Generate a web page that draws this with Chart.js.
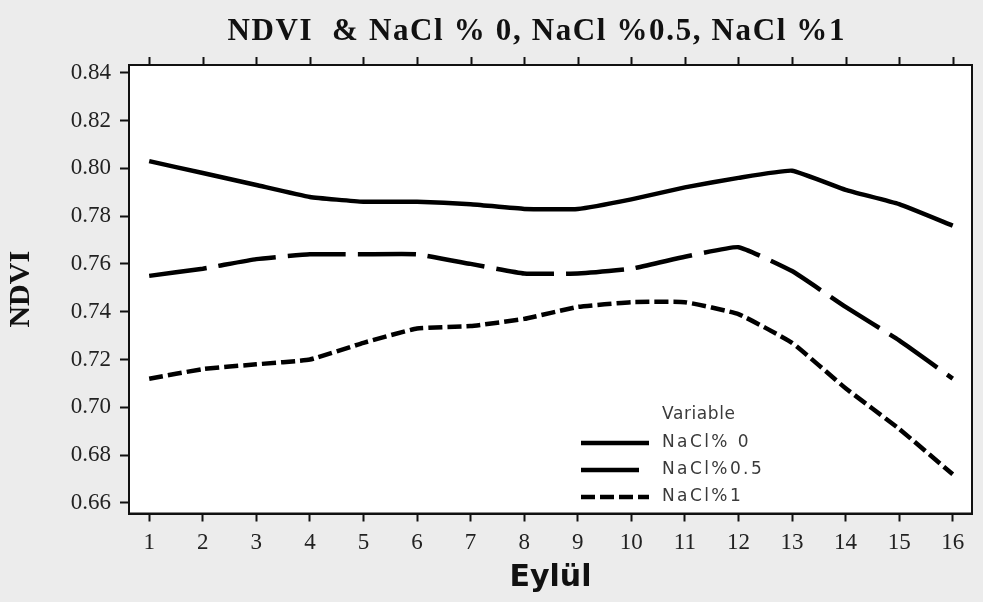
<!DOCTYPE html>
<html>
<head>
<meta charset="utf-8">
<script src="https://cdn.jsdelivr.net/npm/chart.js@4.4.1/dist/chart.umd.min.js"></script>
<style>
  html, body { margin: 0; padding: 0; background: #ececec; }
</style>
</head>
<body>
<canvas id="ndviChart" width="983" height="602"></canvas>
<script>
// Chart data
const days = [1, 2, 3, 4, 5, 6, 7, 8, 9, 10, 11, 12, 13, 14, 15, 16];
const nacl0 = [0.803, 0.798, 0.793, 0.788, 0.786, 0.786, 0.785, 0.783, 0.783, 0.787, 0.792, 0.796, 0.799, 0.791, 0.785, 0.776];
const nacl05 = [0.755, 0.758, 0.762, 0.764, 0.764, 0.764, 0.760, 0.756, 0.756, 0.758, 0.763, 0.767, 0.757, 0.742, 0.728, 0.712];
const nacl1 = [0.712, 0.716, 0.718, 0.720, 0.727, 0.733, 0.734, 0.737, 0.742, 0.744, 0.744, 0.739, 0.727, 0.708, 0.691, 0.672];
const yTicks = [0.66, 0.68, 0.70, 0.72, 0.74, 0.76, 0.78, 0.80, 0.82, 0.84];
const seriesNames = ['NaCl% 0', 'NaCl%0.5', 'NaCl%1'];
const titleText = 'NDVI  & NaCl % 0, NaCl %0.5, NaCl %1';
const legendTitle = 'Variable';

const toPoints = values => values.map((v, i) => ({ x: days[i], y: v }));

// Background, frame, top ticks, title and in-plot legend
const framePlugin = {
    id: 'framePlugin',
    beforeDraw(chart) {
        const { ctx, chartArea: a } = chart;
        ctx.save();
        ctx.fillStyle = '#ececec';
        ctx.fillRect(0, 0, chart.width, chart.height);
        ctx.fillStyle = '#ffffff';
        ctx.fillRect(a.left, a.top, a.right - a.left, a.bottom - a.top);
        ctx.restore();
    },
    afterDraw(chart) {
        const { ctx, chartArea: a } = chart;
        const xScale = chart.scales.x;
        ctx.save();

        // frame round the plot
        ctx.strokeStyle = '#111';
        ctx.lineWidth = 2;
        ctx.strokeRect(a.left, a.top, a.right - a.left, a.bottom - a.top);

        // tick marks on the top edge
        days.forEach(d => {
            const px = Math.round(xScale.getPixelForValue(d)) + 0.5;
            ctx.beginPath();
            ctx.moveTo(px, a.top);
            ctx.lineTo(px, a.top - 8);
            ctx.stroke();
        });

        // title, stretched to the width it has in the source
        ctx.fillStyle = '#111';
        ctx.font = 'bold 31px "Liberation Serif", "Times New Roman", serif';
        ctx.textAlign = 'left';
        ctx.textBaseline = 'middle';
        const plain = ctx.measureText(titleText).width;
        const spacing = Math.max(0, (617 - plain) / (titleText.length - 1));
        ctx.letterSpacing = spacing + 'px';
        ctx.fillText(titleText, 536 - 617 / 2, 32);
        ctx.letterSpacing = '0px';

        // legend inside the plot
        const lx0 = 581, lx1 = 649, tx = 662;
        ctx.font = '17px "DejaVu Sans", sans-serif';
        ctx.fillStyle = '#3a3a3a';
        ctx.letterSpacing = '0.6px';
        ctx.fillText(legendTitle, tx, 415);
        ctx.letterSpacing = '2.4px';
        chart.data.datasets.forEach((ds, i) => {
            const y = 443 + i * 27;
            ctx.save();
            ctx.strokeStyle = ds.borderColor;
            ctx.lineWidth = ds.borderWidth;
            ctx.setLineDash(ds.borderDash || []);
            ctx.beginPath();
            ctx.moveTo(lx0, y);
            ctx.lineTo(lx1, y);
            ctx.stroke();
            ctx.restore();
            ctx.fillText(ds.label, tx, y);
        });
        ctx.restore();
    }
};

const tickFont = { family: '"Liberation Serif", "Times New Roman", serif', size: 23 };

new Chart(document.getElementById('ndviChart'), {
    type: 'line',
    data: {
        datasets: [
            {
                label: seriesNames[0],
                data: toPoints(nacl0),
                borderColor: '#000',
                borderWidth: 4.5,
                borderDash: [],
                pointRadius: 0,
                tension: 0.12,
                fill: false
            },
            {
                label: seriesNames[1],
                data: toPoints(nacl05),
                borderColor: '#000',
                borderWidth: 4.5,
                borderDash: [58, 12],
                pointRadius: 0,
                tension: 0.12,
                fill: false
            },
            {
                label: seriesNames[2],
                data: toPoints(nacl1),
                borderColor: '#000',
                borderWidth: 4.5,
                borderDash: [14, 5],
                pointRadius: 0,
                tension: 0.12,
                fill: false
            }
        ]
    },
    options: {
        responsive: false,
        animation: false,
        layout: { padding: { top: 65, right: 11, left: 0, bottom: 0 } },
        plugins: {
            legend: { display: false },
            title: { display: false },
            tooltip: { enabled: false }
        },
        scales: {
            x: {
                type: 'linear',
                min: 0.623,
                max: 16.36,
                afterBuildTicks(axis) {
                    axis.ticks = days.map(v => ({ value: v }));
                },
                afterFit(scale) {
                    scale.height = 88.5;
                },
                border: { display: true, color: '#111', width: 2 },
                grid: { drawOnChartArea: false, drawTicks: true, tickLength: 8, tickWidth: 2, tickColor: '#111' },
                ticks: {
                    color: '#222',
                    font: tickFont,
                    padding: 8,
                    maxRotation: 0,
                    autoSkip: false
                },
                title: {
                    display: true,
                    text: 'Eylül',
                    color: '#111',
                    font: { family: '"DejaVu Sans", sans-serif', size: 30, weight: 'bold' },
                    padding: { top: 2, bottom: 6 }
                }
            },
            y: {
                min: 0.6556,
                max: 0.8432,
                afterBuildTicks(axis) {
                    axis.ticks = yTicks.map(v => ({ value: v }));
                },
                afterFit(scale) {
                    scale.width = 129;
                },
                border: { display: true, color: '#111', width: 2 },
                grid: { drawOnChartArea: false, drawTicks: true, tickLength: 9, tickWidth: 2, tickColor: '#111' },
                ticks: {
                    color: '#222',
                    font: tickFont,
                    padding: 9,
                    callback: v => v.toFixed(2)
                },
                title: {
                    display: true,
                    text: 'NDVI',
                    color: '#111',
                    font: { family: '"Liberation Serif", "Times New Roman", serif', size: 30, weight: 'bold' },
                    padding: { top: 3, bottom: 4 }
                }
            }
        }
    },
    plugins: [framePlugin]
});
</script>
</body>
</html>
